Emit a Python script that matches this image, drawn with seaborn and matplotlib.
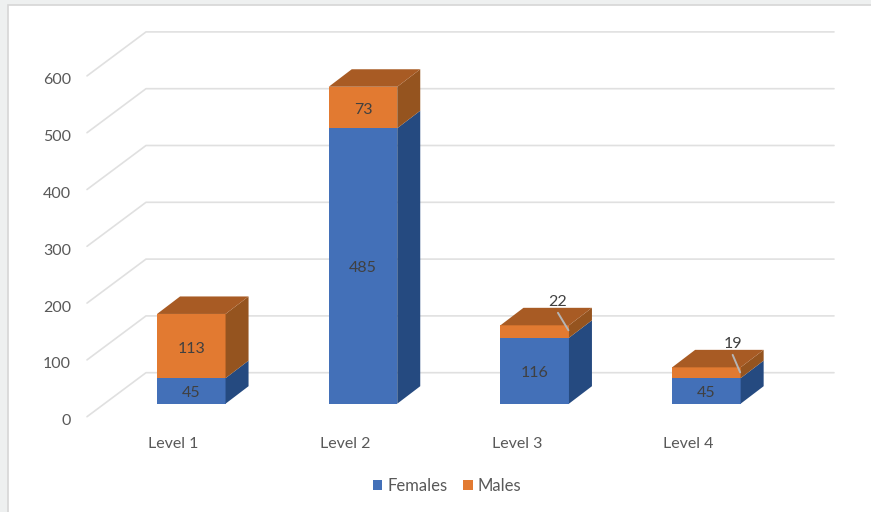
# 3D-look stacked bars: females / males per level

import numpy as np
import matplotlib
matplotlib.use("Agg")
import matplotlib.pyplot as plt
from matplotlib.patches import Rectangle
import seaborn as sns

# -------------------------
# Data
# -------------------------

levels = ["Level 1", "Level 2", "Level 3", "Level 4"]
females = [45, 485, 116, 45]
males = [113, 73, 22, 19]
axis_ticks = [0, 100, 200, 300, 400, 500, 600]

# -------------------------
# Colours and geometry
# -------------------------

BLUE, BLUE_SIDE = "#4370b8", "#254a80"
ORANGE, ORANGE_SIDE, ORANGE_TOP = "#e27a31", "#95541f", "#a85b24"
GRID = "#e0e0e0"
LABEL = "#595959"
INSIDE = "#404040"

W, H = 871, 512
SLOT_PX = 171.7        # px between bar centres
UNIT_PX = 0.568        # px per value unit
X0_PX, Y0_PX = 191.3, 403.7   # px position of first bar centre / value 0
TEXT_DROP = 2.5 / UNIT_PX     # text sits a little lower than its centre

BAR_W = 68.5 / SLOT_PX
DX = 23.0 / SLOT_PX    # bar depth
DY = 17.5 / UNIT_PX
WALL_LEFT = (146 - X0_PX) / SLOT_PX
WALL_RIGHT = (834 - X0_PX) / SLOT_PX
FLOOR_LEFT = (87 - X0_PX) / SLOT_PX
WALL_DY = 31 / UNIT_PX     # back wall sits above the bar base
FLOOR_DY = -13 / UNIT_PX   # front edge of the floor sits below it
LEADER_PX = {2: 11, 3: 8}  # how far left of the bar edge the outside labels sit

sns.set_theme(style="white")
plt.rcParams["font.family"] = ["Lato", "DejaVu Sans"]

fig = plt.figure(figsize=(W / 100, H / 100), dpi=100, facecolor="#eef0f0")
fig.add_artist(Rectangle((7.5 / W, -0.02), 1, 1.02 - 4.5 / H, transform=fig.transFigure,
                         facecolor="white", edgecolor="#d6d6d6", linewidth=1.2, zorder=-1))
ax = fig.add_axes([0, 0, 1, 1])
ax.patch.set_alpha(0)

# wall + floor gridlines
for v in axis_ticks:
    ax.plot([FLOOR_LEFT, WALL_LEFT, WALL_RIGHT],
            [v + FLOOR_DY, v + WALL_DY, v + WALL_DY],
            color=GRID, lw=1.2, zorder=1)
    ax.text((71 - X0_PX) / SLOT_PX, v + FLOOR_DY - TEXT_DROP - 2 / UNIT_PX, str(v),
            ha="right", va="center", fontsize=11.5, color=LABEL)

# front faces
sns.barplot(x=levels, y=females, color=BLUE, saturation=1, width=BAR_W,
            label="Females", ax=ax, zorder=3, linewidth=0)
sns.barplot(x=levels, y=males, bottom=np.array(females), color=ORANGE, saturation=1,
            width=BAR_W, label="Males", ax=ax, zorder=3, linewidth=0)

# side and top faces
for i, (f, m) in enumerate(zip(females, males)):
    right = i + BAR_W / 2
    left = i - BAR_W / 2
    total = f + m
    ax.fill([right, right + DX, right + DX, right], [0, DY, f + DY, f],
            color=BLUE_SIDE, lw=0, zorder=3)
    ax.fill([right, right + DX, right + DX, right], [f, f + DY, total + DY, total],
            color=ORANGE_SIDE, lw=0, zorder=3)
    ax.fill([left, left + DX, right + DX, right], [total, total + DY, total + DY, total],
            color=ORANGE_TOP, lw=0, zorder=3)

    # value labels, small segments get a leader line
    ax.text(i, f / 2 - TEXT_DROP, str(f), ha="center", va="center", fontsize=11.5,
            color=INSIDE, zorder=5)
    if m >= 50:
        ax.text(i, f + m / 2 - TEXT_DROP, str(m), ha="center", va="center", fontsize=11.5,
                color=INSIDE, zorder=5)
    else:
        lab_x = right - LEADER_PX[i] / SLOT_PX
        ax.plot([lab_x, right - 0.5 / SLOT_PX],
                [total + 12.5 / UNIT_PX, total - 5 / UNIT_PX],
                color="#b5b5b5", lw=1.4, zorder=4)
        ax.text(lab_x, total + 26 / UNIT_PX - TEXT_DROP, str(m), ha="center", va="center",
                fontsize=11.5, color=INSIDE, zorder=5)

    # category label sits left of the bar centre
    ax.text(i - 18 / SLOT_PX, (Y0_PX - 441) / UNIT_PX - TEXT_DROP, levels[i], ha="center",
            va="center", fontsize=11.5, color=LABEL)

# axis limits map the axes straight on to the figure
ax.set_xlim(-X0_PX / SLOT_PX, (W - X0_PX) / SLOT_PX)
ax.set_ylim((Y0_PX - H) / UNIT_PX, Y0_PX / UNIT_PX)
ax.set_xticks([])
ax.set_yticks([])
ax.set_xlabel("")
ax.set_ylabel("")
sns.despine(ax=ax, left=True, bottom=True)

ax.legend(loc="center", bbox_to_anchor=(447 / W, 1 - 486 / H), ncol=2, frameon=False,
          fontsize=12, handlelength=0.58, handleheight=0.58, handletextpad=0.3,
          columnspacing=0.95, labelcolor=LABEL, borderpad=0)

plt.savefig("out.png", dpi=100, facecolor=fig.get_facecolor())
plt.close()
